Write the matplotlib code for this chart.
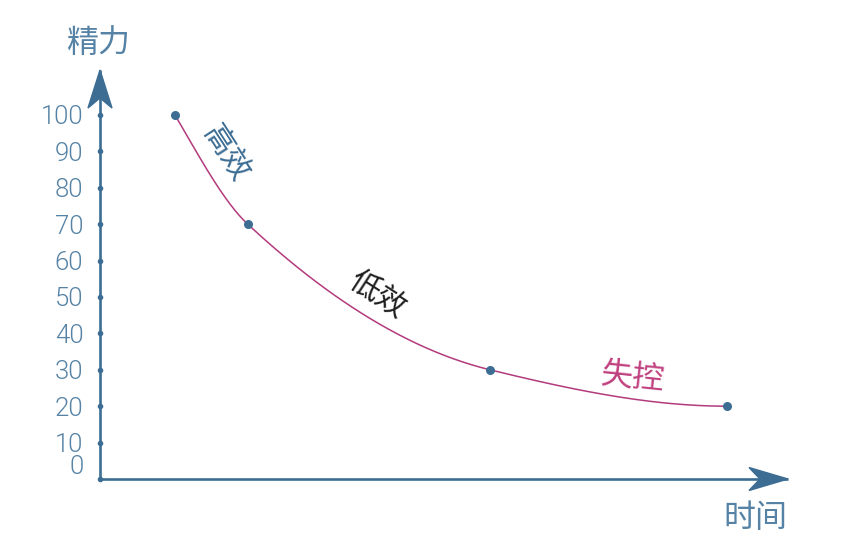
import numpy as np
import matplotlib
matplotlib.use("Agg")
import matplotlib.pyplot as plt
from matplotlib.patches import Polygon
from matplotlib.transforms import IdentityTransform

# ---- data ----
time_x = [1.0, 1.97, 5.2, 8.36]
energy = [100, 70, 30, 20]
yticks = [0, 10, 20, 30, 40, 50, 60, 70, 80, 90, 100]
ytick_labels = [str(v) for v in yticks]
phase_labels = ["高效", "低效", "失控"]
axis_title_y = "精力"
axis_title_x = "时间"

AXIS_C = "#3d6d93"
LABEL_C = "#5683a5"
CURVE_C = "#b33a7c"
CJK = ["Noto Sans CJK SC", "DejaVu Sans"]

W, H = 842, 546
fig = plt.figure(figsize=(W / 100, H / 100), dpi=100)
ax = fig.add_axes([100 / W, 67 / H, 688 / W, 409 / H])
ax.set_xlim(0, 688 / 75)
ax.set_ylim(0, 409 / 3.64)
for s in ax.spines.values():
    s.set_visible(False)
ax.set_xticks([])
ax.set_yticks(yticks, labels=ytick_labels)
ax.tick_params(axis="y", length=0, pad=12, labelsize=18.5, labelcolor=LABEL_C)
for lab in ax.get_yticklabels():
    lab.set_fontfamily(["Roboto", "DejaVu Sans"])
    lab.set_fontweight(300)
ax.get_yticklabels()[0].set_verticalalignment("bottom")

# axes lines
ax.plot([0, 0], [0, 1], transform=ax.transAxes, color=AXIS_C, lw=1.9,
        clip_on=False, solid_capstyle="butt")
ax.plot([0, 1], [0, 0], transform=ax.transAxes, color=AXIS_C, lw=1.9,
        clip_on=False, solid_capstyle="butt")
# tick dots
ax.scatter([0] * len(yticks), yticks, s=9, color=AXIS_C, clip_on=False, zorder=4)

# arrowheads (pixel offsets from axes corners)
fig.canvas.draw()
tx, ty = ax.transAxes.transform((0, 1))
yarrow = [(tx, ty), (tx - 12, ty - 38), (tx, ty - 28), (tx + 12, ty - 38)]
fig.add_artist(Polygon(yarrow, closed=True, transform=IdentityTransform(),
                       color=AXIS_C, zorder=5))
rx, ry = ax.transAxes.transform((1, 0))
xarrow = [(rx, ry), (rx - 39, ry + 11.5), (rx - 28, ry), (rx - 39, ry - 11.5)]
fig.add_artist(Polygon(xarrow, closed=True, transform=IdentityTransform(),
                       color=AXIS_C, zorder=5))

# smooth monotone curve through the data points (rendering only)
x = np.array(time_x)
y = np.array(energy, dtype=float)
h = np.diff(x)
s = np.diff(y) / h
d = np.zeros_like(y)
for i in range(1, len(x) - 1):
    w1 = 2 * h[i] + h[i - 1]
    w2 = h[i] + 2 * h[i - 1]
    d[i] = (w1 + w2) / (w1 / s[i - 1] + w2 / s[i])
d[0] = ((2 * h[0] + h[1]) * s[0] - h[0] * s[1]) / (h[0] + h[1])
d[-1] = 0.0
xs, ys = [], []
for i in range(len(x) - 1):
    t = np.linspace(0, 1, 80)
    h00 = 2 * t**3 - 3 * t**2 + 1
    h10 = t**3 - 2 * t**2 + t
    h01 = -2 * t**3 + 3 * t**2
    h11 = t**3 - t**2
    xs.append(x[i] + t * h[i])
    ys.append(h00 * y[i] + h10 * h[i] * d[i] + h01 * y[i + 1] + h11 * h[i] * d[i + 1])
ax.plot(np.concatenate(xs), np.concatenate(ys), color=CURVE_C, lw=1.1, zorder=3)
ax.scatter(time_x, energy, s=30, color=AXIS_C, zorder=5, clip_on=False)

# phase labels
ax.text(1.67, 89.5, phase_labels[0], rotation=-57, color=AXIS_C, fontsize=22,
        family=CJK, weight="light", ha="center", va="center",
        rotation_mode="anchor")
ax.text(3.69, 50.5, phase_labels[1], rotation=-33, color="#1e1e1e", fontsize=22,
        family=CJK, weight="light", ha="center", va="center",
        rotation_mode="anchor")
ax.text(7.1, 27.8, phase_labels[2], rotation=-6, color="#c0407f", fontsize=23,
        family=CJK, weight="light", ha="center", va="center",
        rotation_mode="anchor")

# axis titles
fig.text(98 / W, 1 - 43 / H, axis_title_y, color=LABEL_C, fontsize=23,
         family=CJK, weight="light", ha="center", va="center")
fig.text(755 / W, 1 - 518 / H, axis_title_x, color=LABEL_C, fontsize=23,
         family=CJK, weight="light", ha="center", va="center")

fig.savefig("out.png", dpi=100)
